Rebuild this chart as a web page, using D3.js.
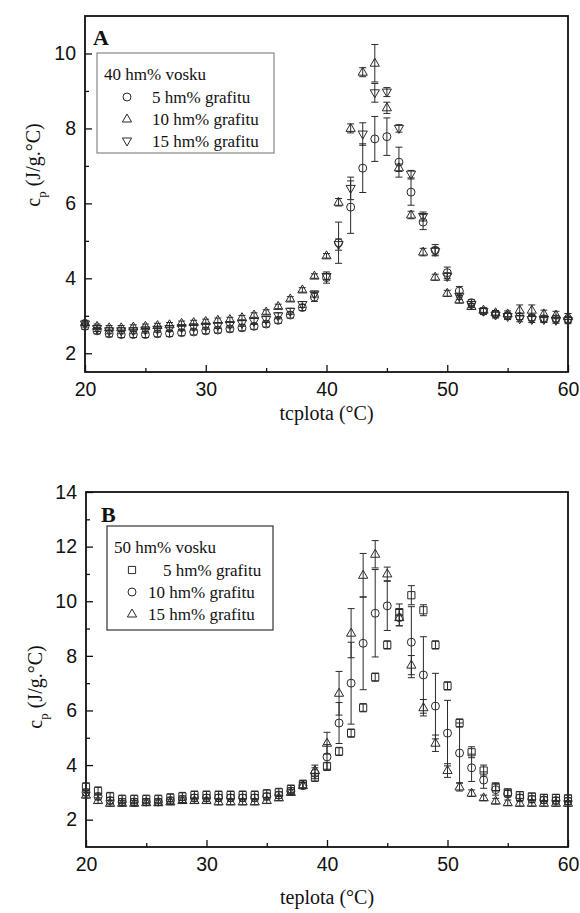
<!DOCTYPE html>
<html>
<head>
<meta charset="utf-8">
<script src="https://cdn.jsdelivr.net/npm/d3@7"></script>
<style>
  body { margin: 0; background: #fff; }
  svg { display: block; }
  .tick text { font-family: "Liberation Sans", Arial, sans-serif; font-size: 19.5px; fill: #111; }
  .axis-title { font-family: "Liberation Serif", "Times New Roman", serif; font-size: 20px; fill: #111; }
  .legend-text { font-family: "Liberation Serif", "Times New Roman", serif; font-size: 17px; fill: #111; }
  .panel-label { font-family: "Liberation Serif", "Times New Roman", serif; font-size: 22px; font-weight: bold; fill: #111; }
</style>
</head>
<body>
<div id="chart"></div>
<script>
// temperature (°C)
var temps = [20,21,22,23,24,25,26,27,28,29,30,31,32,33,34,35,36,37,38,39,40,
             41,42,43,44,45,46,47,48,49,50,51,52,53,54,55,56,57,58,59,60];

// panel A - 40 hm% vosku
var a5  = [2.72,2.6,2.52,2.5,2.5,2.5,2.52,2.53,2.55,2.57,2.6,2.62,2.65,2.68,2.72,2.78,2.88,3.02,3.22,3.5,
           4.02,4.95,5.9,6.94,7.72,7.78,7.1,6.3,5.5,4.75,4.15,3.66,3.35,3.12,3.05,3.0,2.98,2.95,2.92,2.92,2.9];
var a5err = [0.08,0.08,0.08,0.08,0.08,0.08,0.08,0.08,0.08,0.08,0.08,0.08,0.08,0.08,0.08,0.08,0.08,0.08,0.08,
             0.12,0.15,0.55,0.7,0.65,0.6,0.5,0.4,0.35,0.2,0.15,0.15,0.12,
             0.08,0.08,0.08,0.08,0.08,0.08,0.08,0.08,0.08];
var a10 = [2.82,2.72,2.68,2.68,2.7,2.72,2.74,2.76,2.8,2.82,2.85,2.88,2.9,2.95,3.02,3.1,3.25,3.45,3.69,4.06,
           4.6,6.03,8.0,9.5,9.74,8.55,6.95,5.69,4.7,4.03,3.6,3.42,3.25,3.15,3.08,3.05,3.15,3.15,3.05,3.02,2.98];
var a10err = [0.06,0.06,0.06,0.06,0.06,0.06,0.06,0.06,0.06,0.06,0.06,0.06,0.06,0.06,0.06,0.06,0.06,0.06,0.06,0.06,0.06,
              0.1,0.12,0.12,0.5,0.15,0.1,0.1,0.1,0.08,0.08,0.08,0.08,0.06,0.06,0.08,0.14,0.14,0.1,0.1,0.08];
var a15 = [2.78,2.66,2.6,2.6,2.6,2.62,2.64,2.66,2.68,2.7,2.72,2.74,2.76,2.8,2.85,2.9,3.0,3.12,3.3,3.58,
           4.05,4.9,6.4,7.85,8.95,8.97,8.0,6.78,5.65,4.72,4.05,3.52,3.3,3.12,3.02,2.98,2.92,2.9,2.9,2.88,2.87];
var a15err = [0.08,0.08,0.08,0.08,0.08,0.08,0.08,0.08,0.08,0.08,0.08,0.08,0.08,0.08,0.08,0.08,0.08,0.08,0.08,0.08,0.08,
              0.15,0.3,0.3,0.25,0.12,0.1,0.1,0.12,0.1,0.1,
              0.08,0.08,0.08,0.08,0.08,0.08,0.08,0.08,0.08,0.08];

// panel B - 50 hm% vosku
var b5  = [3.2,3.05,2.85,2.75,2.75,2.75,2.75,2.8,2.85,2.9,2.9,2.9,2.9,2.9,2.9,2.95,3.0,3.12,3.3,3.55,
           3.95,4.5,5.17,6.1,7.22,8.4,9.6,10.22,9.67,8.4,6.9,5.54,4.47,3.8,3.2,3.0,2.9,2.85,2.8,2.8,2.78];
var b5err = [0.15,0.15,0.15,0.15,0.15,0.15,0.15,0.15,0.15,0.15,0.15,0.15,0.15,0.15,0.15,0.15,0.15,0.15,0.15,0.15,0.15,
             0.15,0.15,0.15,0.15,0.15,0.3,0.35,0.2,0.15,0.15,0.15,0.2,0.2,0.15,
             0.12,0.12,0.12,0.12,0.12,0.12];
var b10 = [3.0,2.85,2.7,2.65,2.65,2.65,2.65,2.7,2.75,2.8,2.8,2.8,2.8,2.8,2.8,2.85,2.9,3.05,3.25,3.7,
           4.3,5.54,7.0,8.46,9.56,9.83,9.4,8.5,7.3,6.16,5.17,4.44,3.9,3.45,3.1,2.95,2.8,2.75,2.72,2.7,2.68];
var b10err = [0.12,0.12,0.12,0.12,0.12,0.12,0.12,0.12,0.12,0.12,0.12,0.12,0.12,0.12,0.12,0.12,0.12,0.12,0.12,
              0.2,0.45,0.75,1.5,1.7,1.6,0.9,0.3,1.3,1.4,1.2,1.2,1.1,0.5,0.3,0.2,
              0.12,0.12,0.12,0.12,0.12,0.12];
var b15 = [2.9,2.7,2.6,2.6,2.6,2.62,2.62,2.65,2.7,2.7,2.7,2.65,2.65,2.65,2.65,2.7,2.8,3.0,3.25,3.8,
           4.8,6.63,8.83,10.95,11.72,11.0,9.4,7.66,6.1,4.8,3.8,3.2,2.97,2.8,2.68,2.62,2.6,2.6,2.6,2.6,2.6];
var b15err = [0.1,0.1,0.1,0.1,0.1,0.1,0.1,0.1,0.1,0.1,0.1,0.1,0.1,0.1,0.1,0.1,0.1,0.1,0.1,
              0.2,0.4,0.8,0.9,0.8,0.5,0.25,0.3,0.35,0.3,0.3,0.25,0.15,0.12,0.1,0.1,
              0.1,0.1,0.1,0.1,0.1,0.1];

// ticks and labels
var xTicks = [20, 30, 40, 50, 60];
var xMinor = [25, 35, 45, 55];
var yTicksA = [2, 4, 6, 8, 10];
var yMinorA = [3, 5, 7, 9];
var yTicksB = [2, 4, 6, 8, 10, 12, 14];
var yMinorB = [3, 5, 7, 9, 11, 13];
var seriesLabels = ["5 hm% grafitu", "10 hm% grafitu", "15 hm% grafitu"];

var W = 580, H = 913;
var ink = "#2a2a2a";

var svg = d3.select("#chart").append("svg")
    .attr("width", W)
    .attr("height", H)
    .style("background", "#fff");

var shapes = {
  circle: "M4,0A4,4 0 1,1 -4,0A4,4 0 1,1 4,0Z",
  up: "M0,-5L4.6,3L-4.6,3Z",
  down: "M0,5L4.6,-3L-4.6,-3Z",
  square: "M-3.6,-3.6H3.6V3.6H-3.6Z"
};

function drawPanel(p) {
  var x = d3.scaleLinear().domain([20, 60]).range([p.left, p.right]);
  var y = d3.scaleLinear().domain(p.yDomain).range([p.bottom, p.top]);
  var g = svg.append("g");

  // minor ticks
  g.append("g").attr("transform", "translate(0," + p.bottom + ")")
    .call(d3.axisBottom(x).tickValues(xMinor).tickSize(-4).tickFormat(""))
    .call(function(s) { s.select(".domain").remove(); });
  g.append("g").attr("transform", "translate(" + p.left + ",0)")
    .call(d3.axisLeft(y).tickValues(p.yMinor).tickSize(-4).tickFormat(""))
    .call(function(s) { s.select(".domain").remove(); });

  // major ticks
  g.append("g").attr("transform", "translate(0," + p.bottom + ")")
    .call(d3.axisBottom(x).tickValues(xTicks).tickSize(-7).tickPadding(10).tickSizeOuter(0))
    .call(function(s) { s.select(".domain").remove(); });
  g.append("g").attr("transform", "translate(" + p.left + ",0)")
    .call(d3.axisLeft(y).tickValues(p.yTicks).tickSize(-7).tickPadding(9).tickSizeOuter(0))
    .call(function(s) { s.select(".domain").remove(); });

  g.selectAll(".tick line").attr("stroke", "#111").attr("stroke-width", 1.3);

  // frame
  g.append("rect")
    .attr("x", p.left).attr("y", p.top)
    .attr("width", p.right - p.left).attr("height", p.bottom - p.top)
    .attr("fill", "none").attr("stroke", "#111").attr("stroke-width", 1.8);

  // data series
  p.series.forEach(function(s) {
    var sg = g.append("g").attr("fill", "none").attr("stroke", ink).attr("stroke-width", 1);
    var pts = temps.map(function(t, i) { return { t: t, v: s.values[i], e: s.err[i] }; });
    var eb = sg.selectAll(".eb").data(pts).enter().append("g");
    eb.append("line")
      .attr("x1", function(d) { return x(d.t); }).attr("x2", function(d) { return x(d.t); })
      .attr("y1", function(d) { return y(d.v - d.e); }).attr("y2", function(d) { return y(d.v + d.e); });
    eb.append("line")
      .attr("x1", function(d) { return x(d.t) - 3.5; }).attr("x2", function(d) { return x(d.t) + 3.5; })
      .attr("y1", function(d) { return y(d.v + d.e); }).attr("y2", function(d) { return y(d.v + d.e); });
    eb.append("line")
      .attr("x1", function(d) { return x(d.t) - 3.5; }).attr("x2", function(d) { return x(d.t) + 3.5; })
      .attr("y1", function(d) { return y(d.v - d.e); }).attr("y2", function(d) { return y(d.v - d.e); });
    sg.selectAll(".mk").data(pts).enter().append("path")
      .attr("d", shapes[s.shape])
      .attr("transform", function(d) { return "translate(" + x(d.t) + "," + y(d.v) + ")"; });
  });

  // panel letter
  g.append("text").attr("class", "panel-label")
    .attr("x", p.letterX).attr("y", p.letterY).text(p.letter);

  // legend
  var lg = g.append("g");
  lg.append("rect")
    .attr("x", p.legend.x).attr("y", p.legend.y)
    .attr("width", p.legend.w).attr("height", p.legend.h)
    .attr("fill", "#fff").attr("stroke", p.legend.stroke).attr("stroke-width", 1.2);
  lg.append("text").attr("class", "legend-text")
    .attr("x", p.legend.x + 7).attr("y", p.legend.y + 27).text(p.legend.title);
  p.series.forEach(function(s, i) {
    var ry = p.legend.y + 50 + i * 22;
    lg.append("path").attr("d", shapes[s.shape])
      .attr("transform", "translate(" + p.legend.symX + "," + (ry - 6) + ")")
      .attr("fill", "none").attr("stroke", ink).attr("stroke-width", 1);
    var tx = p.legend.textX + (seriesLabels[i].indexOf(" ") === 1 ? p.legend.oneDigitShift : 0);
    lg.append("text").attr("class", "legend-text")
      .attr("x", tx).attr("y", ry).text(seriesLabels[i]);
  });

  // axis titles
  g.append("text").attr("class", "axis-title")
    .attr("x", (p.left + p.right) / 2).attr("y", p.xTitleY)
    .attr("text-anchor", "middle").text(p.xTitle);

  var yt = g.append("text").attr("class", "axis-title")
    .attr("transform", "translate(" + p.yTitleX + "," + p.yTitleY + ") rotate(-90)")
    .attr("text-anchor", "middle");
  yt.append("tspan").text("c");
  yt.append("tspan").attr("dy", 6).style("font-size", "13px").text("p");
  yt.append("tspan").attr("dy", -6).text(" (J/g.°C)");
}

drawPanel({
  top: 16, bottom: 372, left: 85, right: 568,
  yDomain: [1.5, 11], yTicks: yTicksA, yMinor: yMinorA,
  letter: "A", letterX: 93, letterY: 45,
  xTitle: "tcplota (°C)", xTitleY: 420,
  yTitleX: 40, yTitleY: 165,
  legend: { x: 97, y: 53, w: 177, h: 100, stroke: "#888", title: "40 hm% vosku",
            symX: 127, textX: 152, oneDigitShift: 0 },
  series: [
    { values: a5, err: a5err, shape: "circle" },
    { values: a10, err: a10err, shape: "up" },
    { values: a15, err: a15err, shape: "down" }
  ]
});

drawPanel({
  top: 492, bottom: 847, left: 86, right: 568,
  yDomain: [1, 14], yTicks: yTicksB, yMinor: yMinorB,
  letter: "B", letterX: 101, letterY: 522,
  xTitle: "teplota (°C)", xTitleY: 904,
  yTitleX: 42, yTitleY: 687,
  legend: { x: 107, y: 526, w: 166, h: 104, stroke: "#333", title: "50 hm% vosku",
            symX: 132, textX: 148, oneDigitShift: 15 },
  series: [
    { values: b5, err: b5err, shape: "square" },
    { values: b10, err: b10err, shape: "circle" },
    { values: b15, err: b15err, shape: "up" }
  ]
});
</script>
</body>
</html>
